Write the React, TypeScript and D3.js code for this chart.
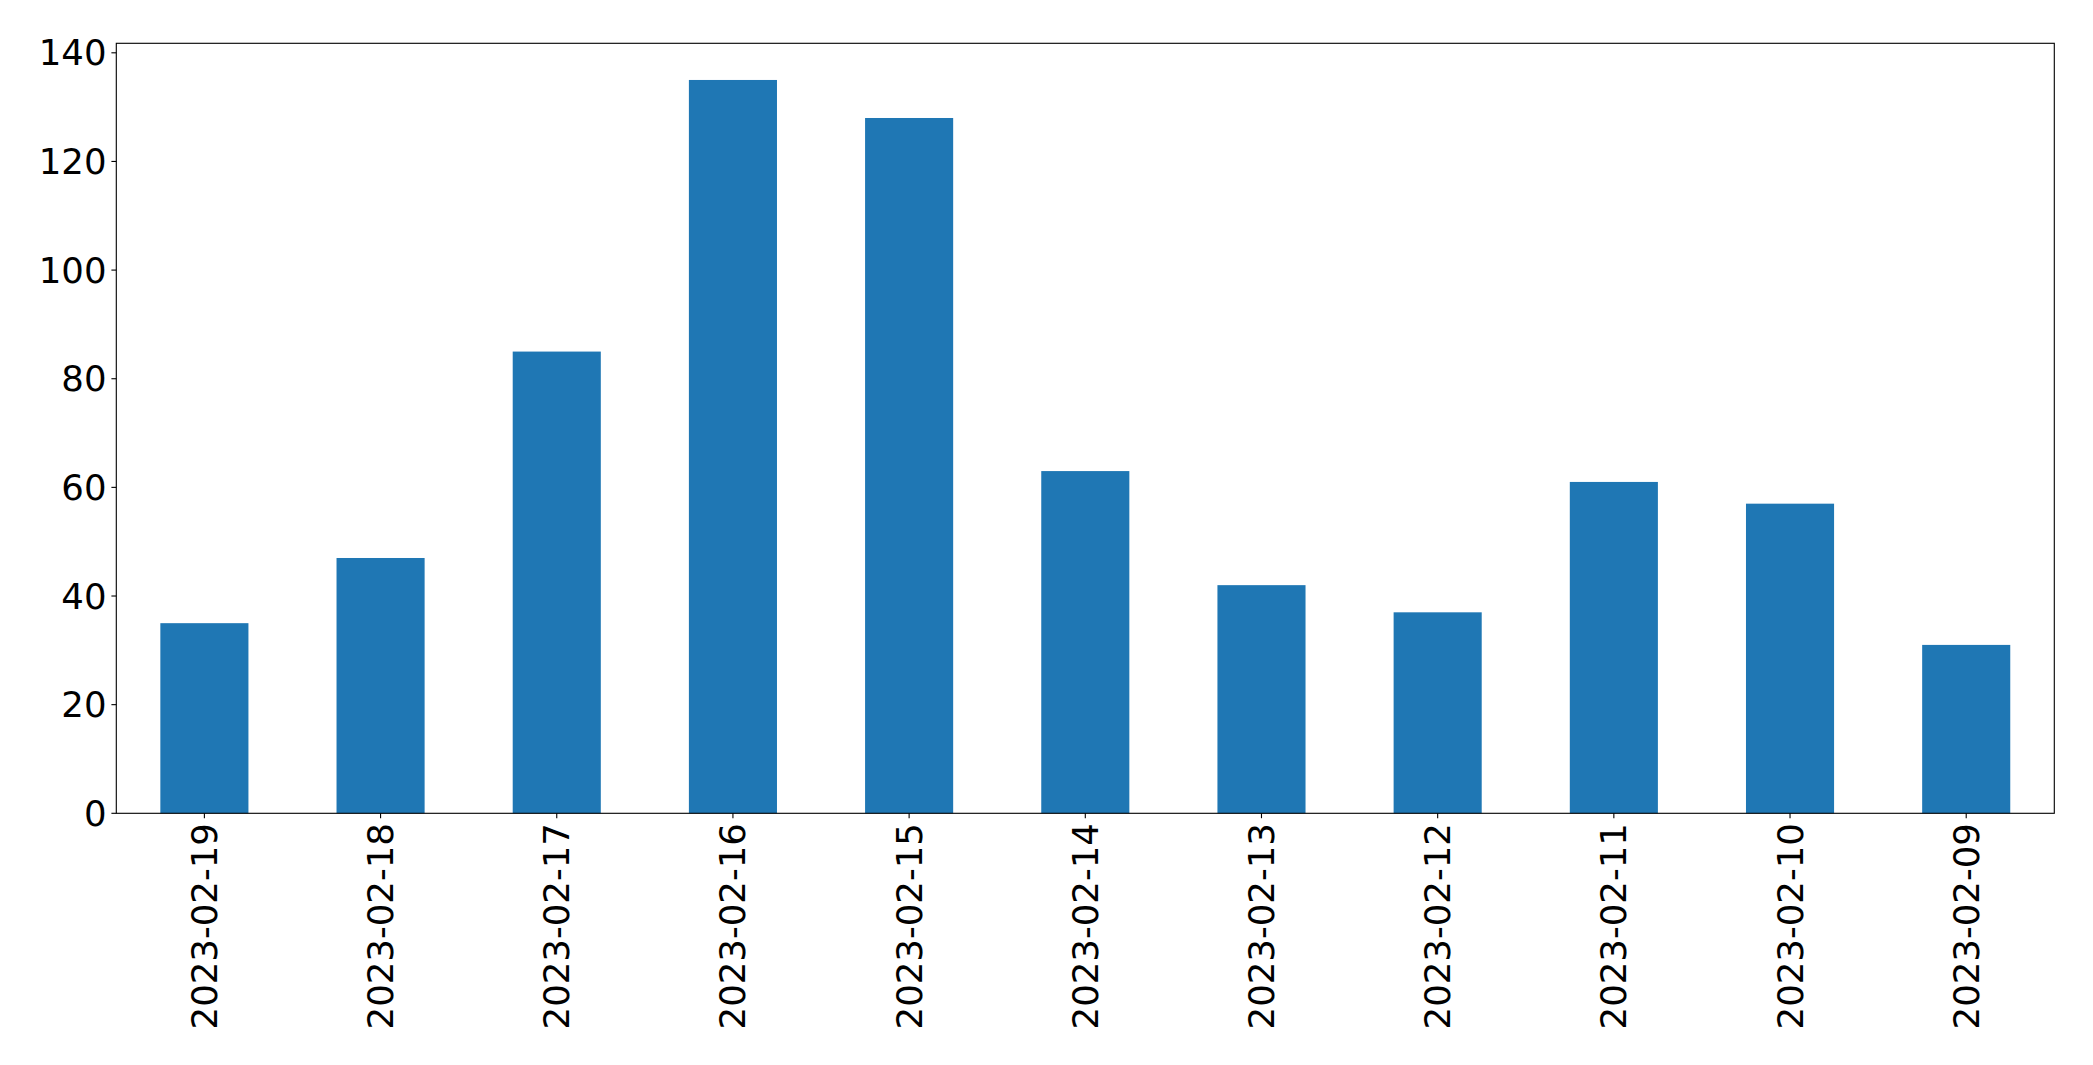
import React from "react";
import * as d3 from "d3";

const categories = ["2023-02-19","2023-02-18","2023-02-17","2023-02-16","2023-02-15","2023-02-14","2023-02-13","2023-02-12","2023-02-11","2023-02-10","2023-02-09"];
const values = [35, 47, 85, 135, 128, 63, 42, 37, 61, 57, 31];
const yTicks = [0, 20, 40, 60, 80, 100, 120, 140];

const W = 2093, H = 1065;
const left = 116.3, right = 2054.3, top = 43.3, bottom = 813.3;
const FONT = "DejaVu Sans";
const FS = 35.5;
const TICK = 4.9;

export default function App() {
  const x = d3.scaleLinear().domain([-0.5, categories.length - 0.5]).range([left, right]);
  const y = d3.scaleLinear().domain([0, d3.max(values)! * 1.05]).range([bottom, top]);
  const bw = x(0.25) - x(-0.25);
  return (
    <svg width={W} height={H} style={{ position: "absolute", left: 0, top: 0 }} fontFamily={FONT}>
      <rect x={0} y={0} width={W} height={H} fill="#fff" />
      {values.map((v, i) => (
        <rect key={i} x={x(i) - bw / 2} y={y(v)} width={bw} height={y(0) - y(v)} fill="#1f77b4" />
      ))}
      <rect x={left} y={top} width={right - left} height={bottom - top} fill="none" stroke="#000" strokeWidth={1.11} />
      {yTicks.map((t) => (
        <g key={t}>
          <line x1={left - TICK} x2={left} y1={y(t)} y2={y(t)} stroke="#000" strokeWidth={1.11} />
          <text x={left - TICK - 4.9} y={y(t)} textAnchor="end" dominantBaseline="central" fontSize={FS} fill="#000">{t}</text>
        </g>
      ))}
      {categories.map((c, i) => (
        <g key={c}>
          <line x1={x(i)} x2={x(i)} y1={bottom} y2={bottom + TICK} stroke="#000" strokeWidth={1.11} />
          <text transform={`translate(${x(i)},${bottom + TICK + 4.9}) rotate(-90)`} textAnchor="end" dominantBaseline="central" fontSize={FS} fill="#000">{c}</text>
        </g>
      ))}
    </svg>
  );
}
